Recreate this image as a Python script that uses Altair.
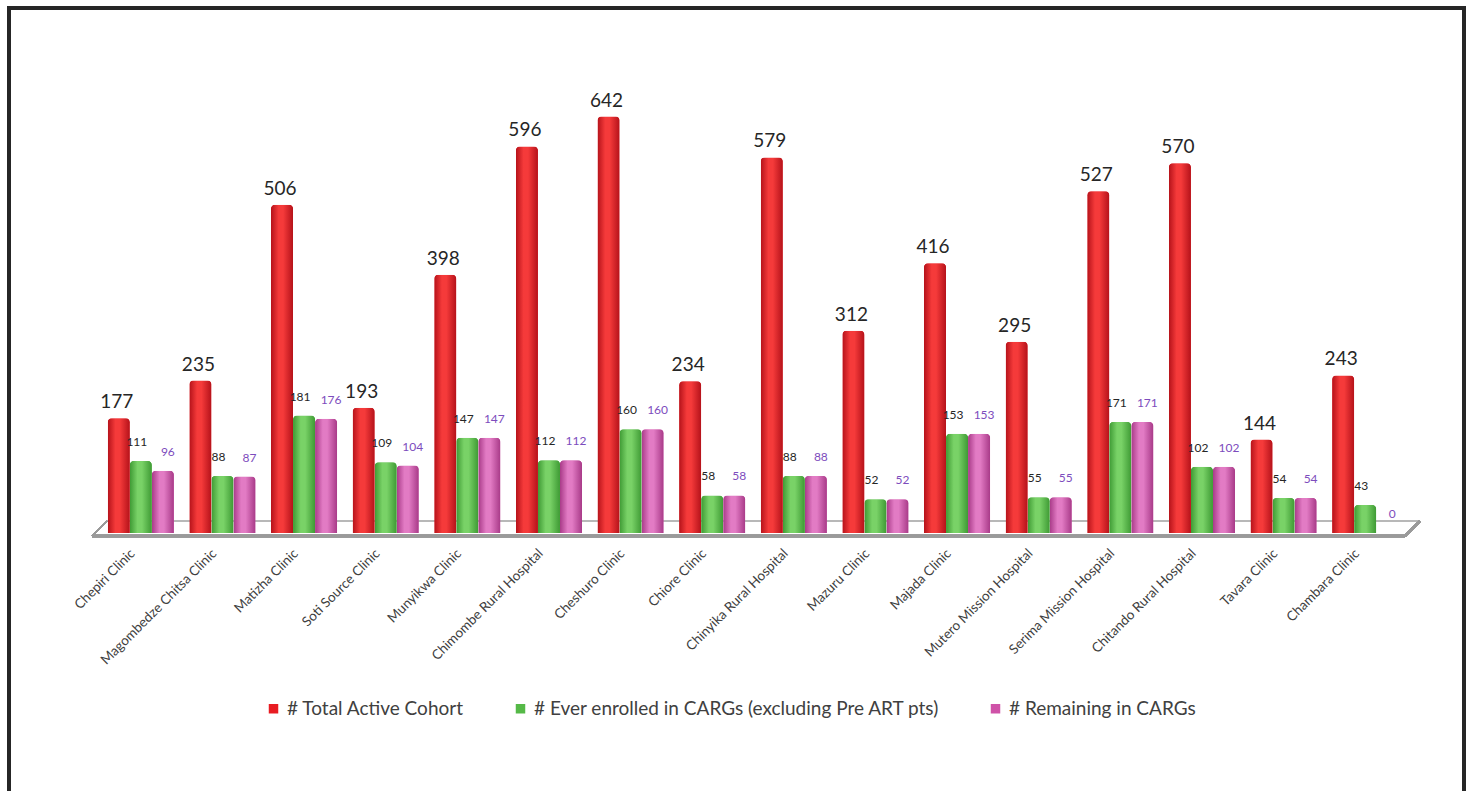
import altair as alt
import pandas as pd

# Clinics and the three counts shown for each
clinics = [
    "Chepiri Clinic", "Magombedze Chitsa Clinic", "Matizha Clinic", "Soti Source Clinic",
    "Munyikwa Clinic", "Chimombe Rural Hospital", "Cheshuro Clinic", "Chiore Clinic",
    "Chinyika Rural Hospital", "Mazuru Clinic", "Majada Clinic", "Mutero Mission Hospital",
    "Serima Mission Hospital", "Chitando Rural Hospital", "Tavara Clinic", "Chambara Clinic",
]
total_active = [177, 235, 506, 193, 398, 596, 642, 234, 579, 312, 416, 295, 527, 570, 144, 243]
ever_enrolled = [111, 88, 181, 109, 147, 112, 160, 58, 88, 52, 153, 55, 171, 102, 54, 43]
remaining = [96, 87, 176, 104, 147, 112, 160, 58, 88, 52, 153, 55, 171, 102, 54, 0]

series = [
    "# Total Active Cohort",
    "# Ever enrolled in CARGs (excluding Pre ART pts)",
    "# Remaining in CARGs",
]
colors = ["#e81c22", "#55b947", "#cf52a8"]
shades = [("#b5121a", "#f53a3a"), ("#3e9a34", "#79d267"), ("#a83a88", "#e27bc4")]
label_colors = ["#262626", "#262626", "#7d4cbd"]

rows = []
for i, clinic in enumerate(clinics):
    for s, vals in zip(series, [total_active, ever_enrolled, remaining]):
        rows.append({"clinic": clinic, "series": s, "value": vals[i]})
df = pd.DataFrame(rows)

FONT = "Lato"
W, H = 1306, 454

x_enc = alt.X(
    "clinic:N", sort=clinics,
    scale=alt.Scale(paddingInner=0.19, paddingOuter=0.095),
    axis=alt.Axis(
        title=None, labelAngle=-45, labelAlign="right", labelBaseline="middle",
        labelFontSize=13.5, labelColor="#404040", labelFont=FONT, labelPadding=18,
        labelOffset=-8, ticks=False, domain=False, labelLimit=300,
    ),
)
xoff_enc = alt.XOffset("series:N", sort=series, scale=alt.Scale(domain=series))
y_enc = alt.Y("value:Q", scale=alt.Scale(domain=[0, 700], nice=False), axis=None)

base = alt.Chart(df)

# Floor under the bars, drawn as an outlined slab
floor_lines = [
    dict(x=-8, x2=1305, y=457, y2=457, c="#9a9a9a", w=2.5),
    dict(x=7, x2=1320, y=442, y2=442, c="#b8b8b8", w=1.5),
    dict(x=-8, x2=7, y=457, y2=442, c="#9a9a9a", w=1.5),
    dict(x=1305, x2=1320, y=457, y2=442, c="#9a9a9a", w=2),
]
floor = [
    base.mark_rule(color=f["c"], strokeWidth=f["w"]).encode(
        x=alt.value(f["x"]), x2=alt.value(f["x2"]), y=alt.value(f["y"]), y2=alt.value(f["y2"])
    )
    for f in floor_lines
]

# Flat bars carrying the legend
bars = base.mark_bar(cornerRadiusTopLeft=4, cornerRadiusTopRight=4).encode(
    x=x_enc, xOffset=xoff_enc, y=y_enc,
    color=alt.Color(
        "series:N", sort=series,
        scale=alt.Scale(domain=series, range=colors),
        legend=alt.Legend(
            title=None, orient="none", legendX=164, legendY=620, direction="horizontal",
            symbolType="square", symbolSize=90, symbolStrokeWidth=0, labelFontSize=19,
            labelFont=FONT, labelColor="#404040", columnPadding=46, labelOffset=4,
            padding=0, labelLimit=600,
        ),
    ),
)

# Cylinder shading on top of each series
shaded = []
for s, (dark, light) in zip(series, shades):
    grad = alt.Gradient(
        gradient="linear", x1=0, x2=1, y1=0, y2=0,
        stops=[
            alt.GradientStop(color=dark, offset=0),
            alt.GradientStop(color=light, offset=0.35),
            alt.GradientStop(color=light, offset=0.55),
            alt.GradientStop(color=dark, offset=1),
        ],
    )
    shaded.append(
        base.transform_filter(alt.datum.series == s)
        .mark_bar(color=grad, cornerRadiusTopLeft=4, cornerRadiusTopRight=4)
        .encode(x=x_enc, xOffset=xoff_enc, y=y_enc)
    )

# Value labels
label_styles = [
    dict(size=19, dx=-2, dy=-10),
    dict(size=12, dx=-4, dy=-15),
    dict(size=12, dx=5, dy=-15),
]
labels = []
for s, col, st in zip(series, label_colors, label_styles):
    labels.append(
        base.transform_filter(alt.datum.series == s)
        .mark_text(font=FONT, fontSize=st["size"], color=col, dx=st["dx"], dy=st["dy"],
                   baseline="alphabetic", align="center")
        .encode(x=x_enc, xOffset=xoff_enc, y=y_enc, text="value:Q")
    )

# Outer frame
frame = base.mark_rect(filled=False, stroke="#262626", strokeWidth=3).encode(
    x=alt.value(-91), x2=alt.value(1364), y=alt.value(-71), y2=alt.value(730)
)

chart = (
    alt.layer(*floor, bars, *shaded, *labels, frame)
    .properties(
        width=W, height=H,
        autosize=alt.AutoSizeParams(type="none"),
        padding={"left": 100, "top": 79, "right": 61, "bottom": 258},
    )
    .configure(font=FONT, background="white")
    .configure_view(strokeWidth=0, stroke="transparent")
)

chart.save("out.html", embed_options={"renderer": "svg", "actions": False})
